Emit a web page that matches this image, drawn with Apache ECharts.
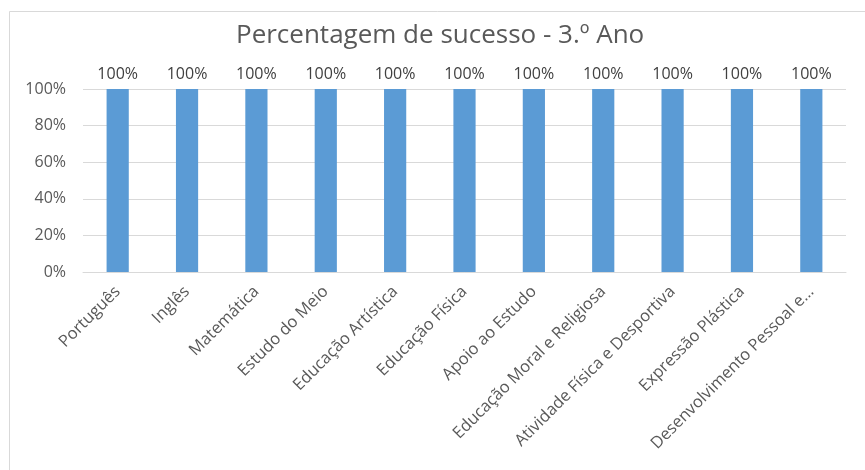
<!DOCTYPE html>
<html><head><meta charset="utf-8">
<script src="https://cdn.jsdelivr.net/npm/echarts@6/dist/echarts.min.js"></script>
<style>html,body{margin:0;padding:0;background:#fff}#c{width:865px;height:470px}</style>
</head><body><div id="c"></div>
<script>
var categories = ["Português","Inglês","Matemática","Estudo do Meio","Educação Artística","Educação Física","Apoio ao Estudo","Educação Moral e Religiosa","Atividade Física e Desportiva","Expressão Plástica","Desenvolvimento Pessoal e…"];
var values = [100,100,100,100,100,100,100,100,100,100,100];
var yTicks = [0,20,40,60,80,100];
var titleText = "Percentagem de sucesso - 3.º Ano";

var font = "Open Sans";
var chart = echarts.init(document.getElementById('c'), null, {renderer:'canvas'});
chart.setOption({
  animation:false,
  backgroundColor:'#fff',
  graphic:[{type:'rect',shape:{x:9.5,y:11.5,width:880,height:480},style:{fill:'none',stroke:'#D9D9D9',lineWidth:1},silent:true}],
  title:{text:titleText,left:231,top:18,textStyle:{fontFamily:font,fontSize:26,fontWeight:'normal',color:'#595959'}},
  grid:{left:83,right:19,top:89,bottom:198,containLabel:false},
  xAxis:{type:'category',data:categories,
    axisLine:{lineStyle:{color:'#D9D9D9'}},axisTick:{show:false},
    axisLabel:{rotate:45,interval:0,margin:17,color:'#595959',fontFamily:font,fontSize:16.5}},
  yAxis:{type:'value',min:yTicks[0],max:yTicks[yTicks.length-1],interval:yTicks[1]-yTicks[0],
    axisLine:{show:false},axisTick:{show:false},
    splitLine:{lineStyle:{color:'#D9D9D9'}},
    axisLabel:{formatter:'{value}%',color:'#595959',fontFamily:font,fontSize:16,margin:17}},
  series:[{type:'bar',data:values,barWidth:'32%',itemStyle:{color:'#5B9BD5'},
    label:{show:true,position:'top',distance:7,formatter:'{c}%',color:'#404040',fontFamily:font,fontSize:16}}]
});
</script></body></html>
